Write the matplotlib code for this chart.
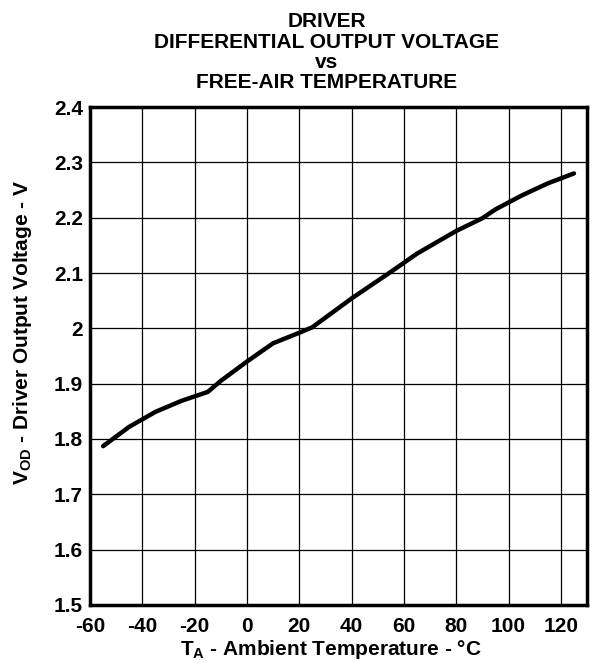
import matplotlib
matplotlib.use('Agg')
import matplotlib.pyplot as plt

# Data
temp_c = [-55, -45, -35, -25, -15, -10, 0, 10, 20, 25, 40, 55, 65, 80, 90, 95, 105, 115, 125]
vod = [1.787, 1.822, 1.849, 1.869, 1.885, 1.905, 1.940, 1.973, 1.992, 2.002,
       2.054, 2.102, 2.135, 2.176, 2.199, 2.215, 2.240, 2.262, 2.280]
x_ticks = [-60, -40, -20, 0, 20, 40, 60, 80, 100, 120]
y_ticks = [1.5, 1.6, 1.7, 1.8, 1.9, 2.0, 2.1, 2.2, 2.3, 2.4]
y_labels = ['1.5', '1.6', '1.7', '1.8', '1.9', '2', '2.1', '2.2', '2.3', '2.4']
title_lines = ['DRIVER', 'DIFFERENTIAL OUTPUT VOLTAGE', 'vs', 'FREE-AIR TEMPERATURE']
title_baselines = [27, 48, 68, 88]  # pixels from top

plt.rcParams['font.family'] = ['Liberation Sans', 'DejaVu Sans']
plt.rcParams['font.weight'] = 'bold'
plt.rcParams['axes.unicode_minus'] = False
plt.rcParams['mathtext.fontset'] = 'custom'
plt.rcParams['mathtext.bf'] = 'Liberation Sans:bold'
plt.rcParams['mathtext.rm'] = 'Liberation Sans:bold'
plt.rcParams['mathtext.default'] = 'bf'

fig = plt.figure(figsize=(5.92, 6.63), dpi=100)
ax = fig.add_axes([0.152, 0.0875, 0.8396, 0.7511])

ax.plot(temp_c, vod, color='black', linewidth=3.2, solid_capstyle='round', zorder=3)

ax.set_xlim(-60, 130)
ax.set_ylim(1.5, 2.4)
ax.set_xticks(x_ticks)
ax.set_yticks(y_ticks)
ax.set_yticklabels(y_labels)
ax.tick_params(length=0, labelsize=15)
ax.tick_params(axis='x', pad=9)
ax.tick_params(axis='y', pad=5)
for lab in ax.get_xticklabels() + ax.get_yticklabels():
    lab.set_fontweight('bold')

ax.grid(True, color='black', linewidth=0.9)
for s in ax.spines.values():
    s.set_linewidth(2.5)
    s.set_color('black')

ax.set_xlabel('T$_A$ - Ambient Temperature - °C', fontsize=15, fontweight='bold')
ax.set_ylabel('V$_{OD}$ - Driver Output Voltage - V', fontsize=15, fontweight='bold')
ax.xaxis.set_label_coords(0.485, -0.066)
ax.yaxis.set_label_coords(-0.112, 0.548)

for line, yb in zip(title_lines, title_baselines):
    fig.text(0.552, 1 - yb / 663, line, ha='center', va='baseline',
             fontsize=15, fontweight='bold')

fig.savefig('out.png', dpi=100)
